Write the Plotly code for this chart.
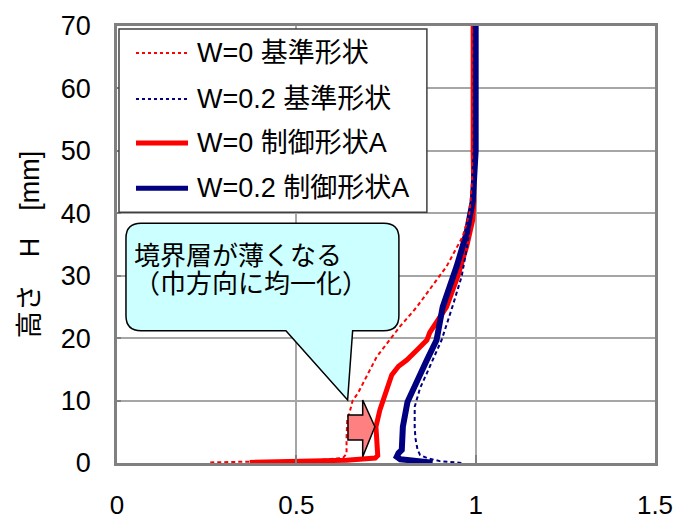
import plotly.graph_objects as go

# Velocity profiles: height H [mm] vs. normalised velocity
names = ["W=0 基準形状", "W=0.2 基準形状", "W=0 制御形状A", "W=0.2 制御形状A"]

w0_base_u = [0.26, 0.40, 0.55, 0.63, 0.64, 0.64, 0.642, 0.648, 0.657, 0.672, 0.690,
             0.724, 0.760, 0.788, 0.836, 0.875, 0.919, 0.964, 0.983, 0.990, 0.990, 0.990, 0.990]
w0_base_h = [0.1, 0.2, 0.4, 0.8, 1.5, 4.0, 7.0, 8.0, 10.0, 11.2, 13.3,
             17.0, 19.7, 21.8, 25.0, 28.0, 31.5, 36.3, 40.0, 45.0, 50.0, 60.0, 70.0]

w02_base_u = [0.96, 0.947, 0.90, 0.864, 0.845, 0.838, 0.832, 0.830, 0.830, 0.845, 0.864,
              0.885, 0.905, 0.935, 0.961, 0.978, 0.988, 0.995, 1.000, 1.000]
w02_base_h = [0.0, 0.1, 0.3, 0.8, 1.3, 2.1, 4.0, 5.8, 9.0, 12.0, 14.4,
              17.0, 19.7, 25.0, 29.9, 35.3, 39.5, 45.0, 50.0, 70.0]

w0_ctrl_u = [0.37, 0.50, 0.64, 0.72, 0.727, 0.725, 0.722, 0.733, 0.745, 0.755, 0.766,
             0.785, 0.808, 0.840, 0.864, 0.872, 0.900, 0.919, 0.950, 0.975, 0.992, 0.995,
             0.993, 0.993]
w0_ctrl_h = [0.1, 0.25, 0.45, 0.8, 1.2, 3.0, 5.8, 8.5, 10.5, 12.2, 14.1,
             15.5, 16.5, 18.3, 19.7, 20.9, 23.5, 25.0, 29.9, 34.7, 39.0, 42.0,
             50.0, 70.0]

w02_ctrl_u = [0.88, 0.83, 0.79, 0.78, 0.785, 0.794, 0.797, 0.810, 0.836, 0.864, 0.891,
              0.908, 0.947, 0.975, 0.992, 1.000, 1.000]
w02_ctrl_h = [0.05, 0.3, 0.6, 1.0, 1.6, 2.1, 5.8, 9.8, 12.8, 16.5, 19.7,
              25.0, 31.5, 36.9, 42.0, 50.0, 70.0]

x_ticks = [0, 0.5, 1, 1.5]
y_ticks = [0, 10, 20, 30, 40, 50, 60, 70]

RED = "#ff0000"
NAVY = "#000080"
FONT = "Liberation Sans, Noto Sans CJK JP, sans-serif"

series = [
    (names[2], w0_ctrl_u, w0_ctrl_h, RED, 5, "solid"),
    (names[3], w02_ctrl_u, w02_ctrl_h, NAVY, 6, "solid"),
    (names[0], w0_base_u, w0_base_h, RED, 2, "4px,3px"),
    (names[1], w02_base_u, w02_base_h, NAVY, 2, "4px,3px"),
]

fig = go.Figure()
for name, u, h, col, w, dash in series:
    fig.add_trace(go.Scatter(x=u, y=h, mode="lines", name=name, showlegend=False,
                             line=dict(color=col, width=w, dash=dash)))

shapes = []
annotations = []

# Callout bubble with rounded corners and a pointer
x0, x1, yb, yt = 0.025, 0.786, 21.2, 38.4
rx, ry = 0.042, 2.4
xp1, xp2, tx, ty = 0.471, 0.657, 0.643, 10.1
bubble = (f"M {x0+rx},{yt} L {x1-rx},{yt} Q {x1},{yt} {x1},{yt-ry} "
          f"L {x1},{yb+ry} Q {x1},{yb} {x1-rx},{yb} L {xp2},{yb} L {tx},{ty} "
          f"L {xp1},{yb} L {x0+rx},{yb} Q {x0},{yb} {x0},{yb+ry} "
          f"L {x0},{yt-ry} Q {x0},{yt} {x0+rx},{yt} Z")
shapes.append(dict(type="path", xref="x", yref="y", path=bubble,
                   fillcolor="#ccffff", line=dict(color="black", width=1.5), layer="above"))
annotations.append(dict(xref="x", yref="y", x=0.042, y=33.1, text="境界層が薄くなる",
                        showarrow=False, xanchor="left", yanchor="middle",
                        font=dict(family=FONT, size=26, color="black")))
annotations.append(dict(xref="x", yref="y", x=0.042, y=28.6, text="（巾方向に均一化）",
                        showarrow=False, xanchor="left", yanchor="middle",
                        font=dict(family=FONT, size=26, color="black")))

# Block arrow pointing right
ax0, axm, axt = 0.644, 0.685, 0.719
arrow = (f"M {ax0},3.7 L {axm},3.7 L {axm},1.0 L {axt},5.8 L {axm},10.1 "
         f"L {axm},7.7 L {ax0},7.7 Z")
shapes.append(dict(type="path", xref="x", yref="y", path=arrow,
                   fillcolor="#ff8080", line=dict(color="black", width=1.5), layer="above"))

# Legend box
shapes.append(dict(type="rect", xref="paper", yref="paper", x0=0.0037, x1=0.576,
                   y0=0.574, y1=0.993, fillcolor="white",
                   line=dict(color="#404040", width=1.5), layer="above"))
legend_rows = [0.938, 0.833, 0.732, 0.629]
legend_style = [(RED, 2, "dot"), (NAVY, 2, "dot"), (RED, 5, "solid"), (NAVY, 5, "solid")]
for yy, name, (col, w, dash) in zip(legend_rows, names, legend_style):
    shapes.append(dict(type="line", xref="paper", yref="paper", x0=0.0353, x1=0.132,
                       y0=yy, y1=yy, line=dict(color=col, width=w, dash=dash), layer="above"))
    annotations.append(dict(xref="paper", yref="paper", x=0.145, y=yy, text=name,
                            showarrow=False, xanchor="left", yanchor="middle",
                            font=dict(family=FONT, size=27, color="black")))

# Y axis title
annotations.append(dict(xref="paper", yref="paper", x=-0.162, y=0.5, text="高さ　H　[mm]",
                        showarrow=False, textangle=-90, xanchor="center", yanchor="middle",
                        font=dict(family=FONT, size=27, color="black")))

fig.update_layout(
    width=683, height=527,
    margin=dict(l=117, r=28, t=26, b=64, autoexpand=False),
    paper_bgcolor="white", plot_bgcolor="white",
    shapes=shapes, annotations=annotations,
    showlegend=False,
    font=dict(family=FONT, color="black"),
)
fig.update_xaxes(range=[0, 1.5], tickvals=x_ticks, ticktext=[str(v) for v in x_ticks],
                 showgrid=True, gridcolor="#a6a6a6", gridwidth=1.5,
                 showline=True, linecolor="#808080", linewidth=2.5, mirror=True,
                 ticks="inside", ticklen=8, tickcolor="#808080", tickwidth=2,
                 zeroline=False, ticklabelstandoff=17, automargin=False,
                 tickfont=dict(family=FONT, size=26, color="black"))
fig.update_yaxes(range=[0, 70], tickvals=y_ticks,
                 showgrid=True, gridcolor="#a6a6a6", gridwidth=1.5,
                 showline=True, linecolor="#808080", linewidth=2.5, mirror=True,
                 ticks="inside", ticklen=4, tickcolor="#808080", tickwidth=2,
                 zeroline=False, ticklabelstandoff=18, automargin=False,
                 tickfont=dict(family=FONT, size=27, color="black"))

fig.write_html("out.html")
